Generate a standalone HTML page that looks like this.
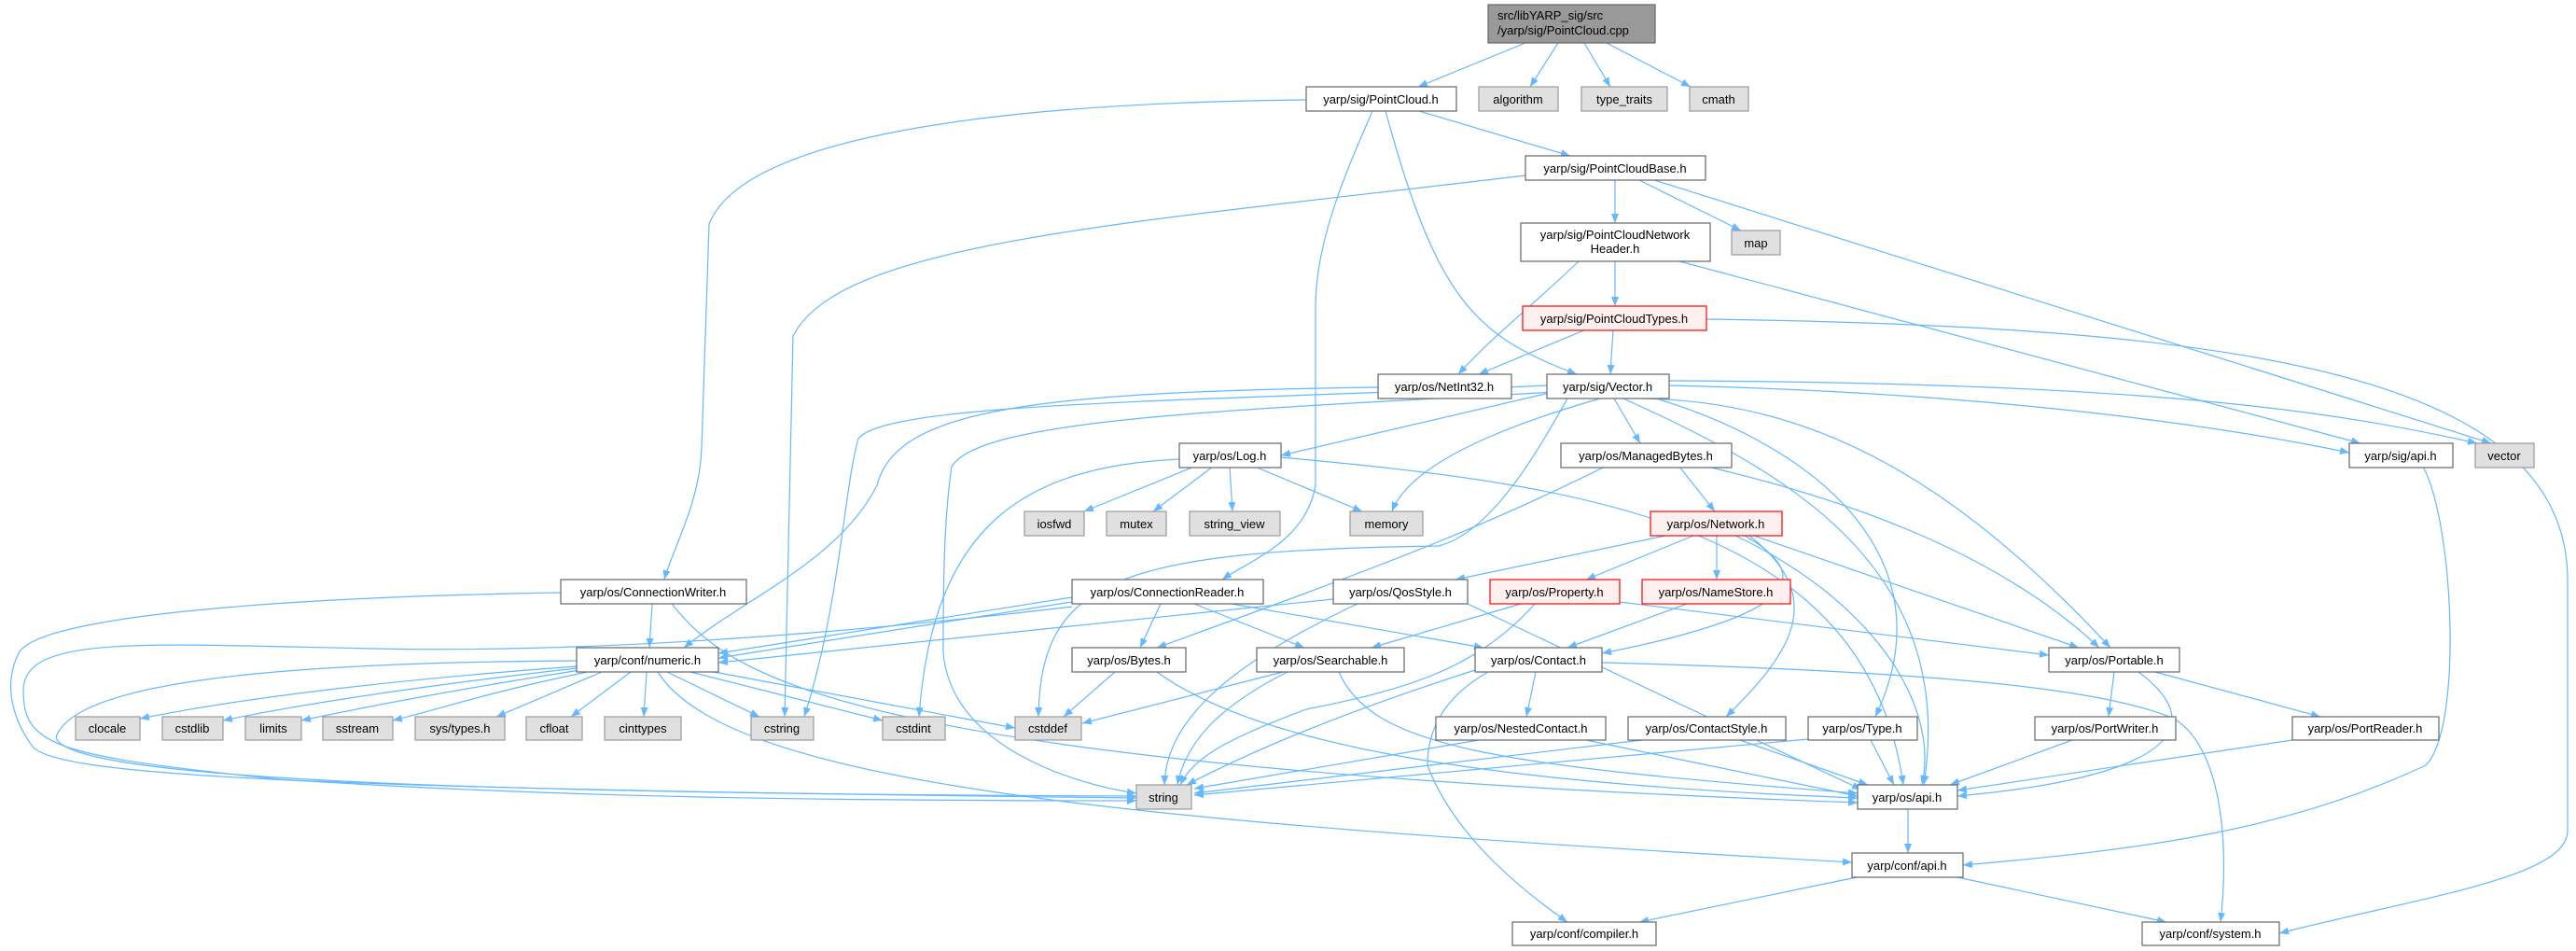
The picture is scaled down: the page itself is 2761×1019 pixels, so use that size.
<!DOCTYPE html>
<html><head><meta charset="utf-8">
<style>
html,body{margin:0;padding:0;background:#fff;}
svg{display:block;}
text{font-family:"Liberation Sans",sans-serif;font-size:13px;fill:#000;}
.e{fill:none;stroke:#63b8ff;stroke-width:1.2;marker-end:url(#a);}
.n{fill:#fff;stroke:#666;stroke-width:1.2;}
.g{fill:#e0e0e0;stroke:#999;stroke-width:1.2;}
.r{fill:#fff0f0;stroke:#f00;stroke-width:1.2;}
</style></head><body>
<svg width="2761" height="1019" viewBox="0 0 2761 1019" xmlns="http://www.w3.org/2000/svg">
<defs>
<marker id="a" markerWidth="10" markerHeight="8" refX="10" refY="4" orient="auto" markerUnits="userSpaceOnUse">
<path d="M0,0 L10,4 L0,8 Z" fill="#63b8ff"/>
</marker>
</defs>
<g>
<path class="e" d="M1635,46 L1520,93"/>
<path class="e" d="M1670,46 L1640,93"/>
<path class="e" d="M1698,46 L1726,93"/>
<path class="e" d="M1722,46 L1812,93"/>
<path class="e" d="M1400,107 C1100,110 800,140 760,240 L752,480 C750,540 720,590 712,621"/>
<path class="e" d="M1471,119 C1440,190 1410,260 1410,330 L1410,520 C1400,580 1340,600 1310,621"/>
<path class="e" d="M1485,119 C1540,320 1580,360 1690,401"/>
<path class="e" d="M1521,119 L1683,167"/>
<path class="e" d="M1635,188 C1200,240 900,260 850,360 L841,768"/>
<path class="e" d="M1731,192 L1731,239"/>
<path class="e" d="M1755,192 L1866,247"/>
<path class="e" d="M1770,192 L2670,475"/>
<path class="e" d="M1692,280 C1640,330 1600,360 1563,401"/>
<path class="e" d="M1731,280 L1731,328"/>
<path class="e" d="M1800,280 L2530,475"/>
<path class="e" d="M1700,353 L1585,401"/>
<path class="e" d="M1729,353 L1726,401"/>
<path class="e" d="M1829,342 C2400,350 2750,400 2752,620 L2752,890 C2752,940 2600,960 2443,1000"/>
<path class="e" d="M1477,415 C1100,420 960,440 940,520 C900,600 800,640 733,694"/>
<path class="e" d="M1665,420 L1373,488"/>
<path class="e" d="M1730,427 L1758,475"/>
<path class="e" d="M1715,427 C1600,460 1510,500 1492,548"/>
<path class="e" d="M1680,427 C1650,480 1600,570 1542,585 C1200,590 1115,620 1113,768"/>
<path class="e" d="M1658,413 C1300,430 950,430 920,470 C905,520 900,650 862,768"/>
<path class="e" d="M1668,420 C1300,440 1050,450 1020,500 C1011,560 1011,640 1011,700 C1020,800 1150,840 1218,850"/>
<path class="e" d="M1789,413 C2100,420 2350,450 2518,485"/>
<path class="e" d="M1789,408 C2300,410 2500,440 2655,475"/>
<path class="e" d="M1760,427 C1950,430 2100,520 2262,694"/>
<path class="e" d="M1775,427 C1950,480 2090,600 2010,768"/>
<path class="e" d="M1740,427 C1900,500 2100,600 2062,841"/>
<path class="e" d="M1280,500 L1162,548"/>
<path class="e" d="M1300,500 L1236,548"/>
<path class="e" d="M1318,500 L1321,548"/>
<path class="e" d="M1345,500 L1460,548"/>
<path class="e" d="M1264,492 C1100,500 1000,560 985,768"/>
<path class="e" d="M1373,490 C1700,520 2000,560 2040,841"/>
<path class="e" d="M1800,500 L1838,548"/>
<path class="e" d="M1720,500 C1600,560 1500,600 1240,694"/>
<path class="e" d="M1830,500 C2000,540 2150,600 2250,694"/>
<path class="e" d="M1785,574 L1560,621"/>
<path class="e" d="M1815,574 L1700,621"/>
<path class="e" d="M1840,574 L1840,621"/>
<path class="e" d="M1880,574 L2228,694"/>
<path class="e" d="M1870,574 C1950,620 1920,660 1717,700"/>
<path class="e" d="M1875,574 C1960,640 1920,700 1850,768"/>
<path class="e" d="M1860,574 C2000,640 2080,750 2060,841"/>
<path class="e" d="M699,647 L696,694"/>
<path class="e" d="M601,635 C300,640 40,660 20,700 C0,740 20,780 35,800 C60,830 300,845 1218,855"/>
<path class="e" d="M720,647 C780,720 880,820 1991,860"/>
<path class="e" d="M1149,640 L770,700"/>
<path class="e" d="M1149,645 L770,705"/>
<path class="e" d="M1244,647 L1222,694"/>
<path class="e" d="M1280,647 L1398,694"/>
<path class="e" d="M1320,647 L1590,694"/>
<path class="e" d="M1149,650 C900,680 620,700 400,695 C150,690 25,680 25,740 C25,800 60,810 300,835 C600,855 900,858 1218,858"/>
<path class="e" d="M1429,642 L770,710"/>
<path class="e" d="M1455,647 C1300,720 1250,780 1248,841"/>
<path class="e" d="M1573,647 L1995,846"/>
<path class="e" d="M1630,647 L1470,694"/>
<path class="e" d="M1645,647 C1580,720 1500,740 1400,760 C1320,790 1280,810 1265,841"/>
<path class="e" d="M1736,645 L2196,702"/>
<path class="e" d="M1808,647 L1680,694"/>
<path class="e" d="M618,714 C400,730 250,750 150,770"/>
<path class="e" d="M618,716 C450,735 320,755 239,772"/>
<path class="e" d="M622,718 C480,740 380,760 323,772"/>
<path class="e" d="M630,720 C530,740 470,760 421,772"/>
<path class="e" d="M645,720 L532,768"/>
<path class="e" d="M676,720 L612,768"/>
<path class="e" d="M693,720 L690,768"/>
<path class="e" d="M715,720 L814,768"/>
<path class="e" d="M740,720 L946,772"/>
<path class="e" d="M765,720 L1088,780"/>
<path class="e" d="M618,708 C300,710 80,730 60,790 C70,830 400,850 1218,853"/>
<path class="e" d="M705,720 C780,840 1200,880 1985,924"/>
<path class="e" d="M1195,720 L1140,768"/>
<path class="e" d="M1240,720 C1350,800 1600,840 1991,855"/>
<path class="e" d="M1375,720 L1160,775"/>
<path class="e" d="M1380,720 C1300,760 1270,800 1262,841"/>
<path class="e" d="M1435,720 C1470,800 1600,820 1991,850"/>
<path class="e" d="M1646,720 L1636,768"/>
<path class="e" d="M1581,718 C1450,760 1350,800 1272,841"/>
<path class="e" d="M1595,720 C1560,740 1530,770 1530,820 C1560,900 1640,960 1680,988"/>
<path class="e" d="M1717,710 C2100,720 2260,740 2330,770 C2380,800 2390,900 2380,988"/>
<path class="e" d="M1585,793 L1280,845"/>
<path class="e" d="M1700,793 L1991,853"/>
<path class="e" d="M1760,793 L1280,850"/>
<path class="e" d="M1865,793 L2002,841"/>
<path class="e" d="M1938,792 L1280,852"/>
<path class="e" d="M2005,793 L2030,841"/>
<path class="e" d="M2266,720 L2260,768"/>
<path class="e" d="M2310,720 L2487,768"/>
<path class="e" d="M2292,720 C2360,770 2350,830 2098,853"/>
<path class="e" d="M2221,793 L2090,841"/>
<path class="e" d="M2457,793 L2098,847"/>
<path class="e" d="M2597,500 C2630,560 2640,780 2600,820 C2450,890 2300,910 2104,927"/>
<path class="e" d="M2045,867 L2045,914"/>
<path class="e" d="M1990,940 L1757,988"/>
<path class="e" d="M2098,940 L2322,988"/>
</g>
<g>
<rect x="1595" y="5" width="179" height="41" fill="#999" stroke="#666" stroke-width="1.2"/>
<text x="1605" y="21">src/libYARP_sig/src</text>
<text x="1605" y="37">/yarp/sig/PointCloud.cpp</text>
<rect class="n" x="1400" y="93" width="161" height="26"/><text x="1480" y="111" text-anchor="middle">yarp/sig/PointCloud.h</text>
<rect class="g" x="1585" y="93" width="85" height="26"/><text x="1627" y="111" text-anchor="middle">algorithm</text>
<rect class="g" x="1695" y="93" width="92" height="26"/><text x="1741" y="111" text-anchor="middle">type_traits</text>
<rect class="g" x="1811" y="93" width="63" height="26"/><text x="1842" y="111" text-anchor="middle">cmath</text>
<rect class="n" x="1635" y="167" width="193" height="26"/><text x="1731" y="185" text-anchor="middle">yarp/sig/PointCloudBase.h</text>
<rect class="g" x="1856" y="247" width="52" height="26"/><text x="1882" y="265" text-anchor="middle">map</text>
<rect class="n" x="1630" y="239" width="203" height="41"/><text x="1731" y="256" text-anchor="middle">yarp/sig/PointCloudNetwork</text><text x="1731" y="271" text-anchor="middle">Header.h</text>
<rect class="r" x="1632" y="328" width="197" height="26"/><text x="1730" y="346" text-anchor="middle">yarp/sig/PointCloudTypes.h</text>
<rect class="n" x="1477" y="401" width="143" height="26"/><text x="1548" y="419" text-anchor="middle">yarp/os/NetInt32.h</text>
<rect class="n" x="1658" y="401" width="131" height="26"/><text x="1723" y="419" text-anchor="middle">yarp/sig/Vector.h</text>
<rect class="n" x="1264" y="475" width="109" height="26"/><text x="1318" y="493" text-anchor="middle">yarp/os/Log.h</text>
<rect class="n" x="1673" y="475" width="183" height="26"/><text x="1764" y="493" text-anchor="middle">yarp/os/ManagedBytes.h</text>
<rect class="n" x="2518" y="475" width="111" height="26"/><text x="2573" y="493" text-anchor="middle">yarp/sig/api.h</text>
<rect class="g" x="2653" y="475" width="63" height="26"/><text x="2684" y="493" text-anchor="middle">vector</text>
<rect class="g" x="1098" y="548" width="64" height="26"/><text x="1130" y="566" text-anchor="middle">iosfwd</text>
<rect class="g" x="1186" y="548" width="64" height="26"/><text x="1218" y="566" text-anchor="middle">mutex</text>
<rect class="g" x="1275" y="548" width="97" height="26"/><text x="1323" y="566" text-anchor="middle">string_view</text>
<rect class="g" x="1447" y="548" width="78" height="26"/><text x="1486" y="566" text-anchor="middle">memory</text>
<rect class="r" x="1769" y="548" width="141" height="26"/><text x="1839" y="566" text-anchor="middle">yarp/os/Network.h</text>
<rect class="n" x="601" y="621" width="199" height="26"/><text x="700" y="639" text-anchor="middle">yarp/os/ConnectionWriter.h</text>
<rect class="n" x="1149" y="621" width="205" height="26"/><text x="1251" y="639" text-anchor="middle">yarp/os/ConnectionReader.h</text>
<rect class="n" x="1429" y="621" width="144" height="26"/><text x="1501" y="639" text-anchor="middle">yarp/os/QosStyle.h</text>
<rect class="r" x="1597" y="621" width="139" height="26"/><text x="1666" y="639" text-anchor="middle">yarp/os/Property.h</text>
<rect class="r" x="1760" y="621" width="159" height="26"/><text x="1839" y="639" text-anchor="middle">yarp/os/NameStore.h</text>
<rect class="n" x="618" y="694" width="152" height="26"/><text x="694" y="712" text-anchor="middle">yarp/conf/numeric.h</text>
<rect class="n" x="1149" y="694" width="122" height="26"/><text x="1210" y="712" text-anchor="middle">yarp/os/Bytes.h</text>
<rect class="n" x="1347" y="694" width="158" height="26"/><text x="1426" y="712" text-anchor="middle">yarp/os/Searchable.h</text>
<rect class="n" x="1581" y="694" width="136" height="26"/><text x="1649" y="712" text-anchor="middle">yarp/os/Contact.h</text>
<rect class="n" x="2196" y="694" width="140" height="26"/><text x="2266" y="712" text-anchor="middle">yarp/os/Portable.h</text>
<rect class="g" x="81" y="768" width="69" height="25"/><text x="115" y="785" text-anchor="middle">clocale</text>
<rect class="g" x="174" y="768" width="65" height="25"/><text x="206" y="785" text-anchor="middle">cstdlib</text>
<rect class="g" x="263" y="768" width="60" height="25"/><text x="293" y="785" text-anchor="middle">limits</text>
<rect class="g" x="346" y="768" width="75" height="25"/><text x="383" y="785" text-anchor="middle">sstream</text>
<rect class="g" x="445" y="768" width="96" height="25"/><text x="493" y="785" text-anchor="middle">sys/types.h</text>
<rect class="g" x="564" y="768" width="60" height="25"/><text x="594" y="785" text-anchor="middle">cfloat</text>
<rect class="g" x="648" y="768" width="82" height="25"/><text x="689" y="785" text-anchor="middle">cinttypes</text>
<rect class="g" x="805" y="768" width="67" height="25"/><text x="838" y="785" text-anchor="middle">cstring</text>
<rect class="g" x="946" y="768" width="67" height="25"/><text x="979" y="785" text-anchor="middle">cstdint</text>
<rect class="g" x="1088" y="768" width="71" height="25"/><text x="1123" y="785" text-anchor="middle">cstddef</text>
<rect class="n" x="1539" y="768" width="182" height="25"/><text x="1630" y="785" text-anchor="middle">yarp/os/NestedContact.h</text>
<rect class="n" x="1745" y="768" width="169" height="25"/><text x="1829" y="785" text-anchor="middle">yarp/os/ContactStyle.h</text>
<rect class="n" x="1938" y="768" width="117" height="25"/><text x="1996" y="785" text-anchor="middle">yarp/os/Type.h</text>
<rect class="n" x="2181" y="768" width="151" height="25"/><text x="2256" y="785" text-anchor="middle">yarp/os/PortWriter.h</text>
<rect class="n" x="2457" y="768" width="157" height="25"/><text x="2535" y="785" text-anchor="middle">yarp/os/PortReader.h</text>
<rect class="g" x="1218" y="841" width="59" height="26"/><text x="1247" y="859" text-anchor="middle">string</text>
<rect class="n" x="1991" y="841" width="107" height="26"/><text x="2044" y="859" text-anchor="middle">yarp/os/api.h</text>
<rect class="n" x="1985" y="914" width="119" height="26"/><text x="2044" y="932" text-anchor="middle">yarp/conf/api.h</text>
<rect class="n" x="1621" y="988" width="154" height="25"/><text x="1698" y="1005" text-anchor="middle">yarp/conf/compiler.h</text>
<rect class="n" x="2296" y="988" width="147" height="25"/><text x="2369" y="1005" text-anchor="middle">yarp/conf/system.h</text>
</g>
</svg>
</body></html>
